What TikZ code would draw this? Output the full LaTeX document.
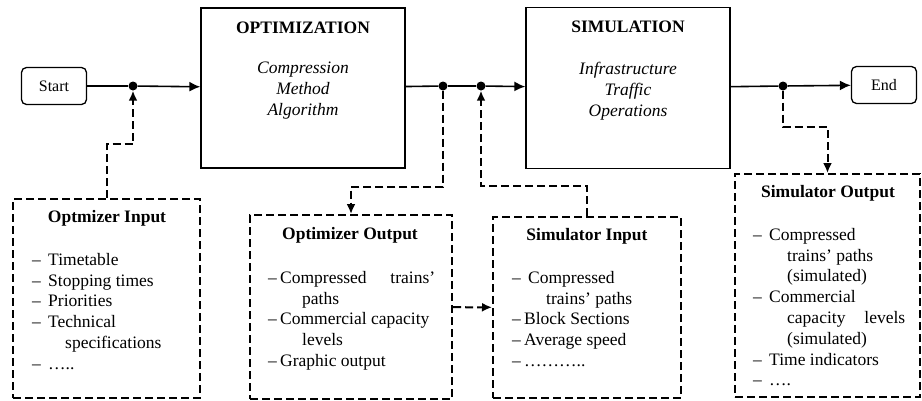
\documentclass[tikz,border=0pt]{standalone}
\usepackage{fontspec}
\setmainfont{Liberation Serif}
\usetikzlibrary{arrows.meta}

\begin{document}
\begin{tikzpicture}[x=1pt,y=-1pt]
        \tikzstyle{blk} = [draw, line width=1.3pt, inner sep=0pt];
        \tikzstyle{term} = [draw, line width=1.3pt, rounded corners=5pt, minimum width=65pt, minimum height=37pt, font=\fontsize{16}{19}\selectfont];
        \tikzstyle{io} = [draw, line width=2pt, dash pattern=on 8pt off 4pt, inner sep=0pt];
        \tikzstyle{dot} = [circle, fill, inner sep=0pt, minimum size=9pt];
        \tikzstyle{ttl} = [font=\fontsize{17.5}{21}\selectfont\bfseries];
        \tikzstyle{itx} = [align=center, font=\fontsize{17.5}{21}\selectfont\itshape];
        \tikzstyle{itm} = [anchor=north west, align=left, inner sep=0pt, font=\fontsize{17.5}{20.8}\selectfont];
        \tikzstyle{l} = [line width=1.6pt];
        \tikzstyle{e} = [line width=1.6pt, -{Latex[length=11pt,width=10pt]}];
        \tikzstyle{d} = [line width=2pt, dash pattern=on 8pt off 4pt, -{Latex[length=10pt,width=9pt]}];

        \useasboundingbox (0,0) rectangle (922,400);

        % main flow
        \node[term](st) at (54,86){Start};
        \node[blk, minimum width=204pt, minimum height=160pt](opt) at (303,88){};
        \node[blk, minimum width=204pt, minimum height=161pt](sim) at (628,88){};
        \node[term](en) at (884,85){End};
        \node[dot](j1) at (133,86){};
        \node[dot](j2) at (443,86){};
        \node[dot](j3) at (481,86){};
        \node[dot](j4) at (783,86){};

        \node[ttl](optt) at (303,28){OPTIMIZATION};
        \node[itx](optx) at (303,91){Compression\\Method\\Algorithm};
        \node[ttl](simt) at (628,27){SIMULATION};
        \node[itx](simx) at (628,91){Infrastructure\\Traffic\\Operations};

        \draw[l](st)--(j1);
        \draw[e](j1)--(opt);
        \draw[l](opt)--(j2);
        \draw[l](j2)--(j3);
        \draw[e](j3)--(sim);
        \draw[l](sim)--(j4);
        \draw[e](j4)--(en);

        % inputs and outputs
        \node[io, minimum width=187pt, minimum height=199pt](oin) at (106.5,298.5){};
        \node[io, minimum width=202pt, minimum height=184pt](oout) at (351,307){};
        \node[io, minimum width=188pt, minimum height=181pt](sin) at (587,307.5){};
        \node[io, minimum width=185pt, minimum height=223pt](sout) at (827.5,285.5){};

        \node[ttl](oint) at (107,218){Optmizer Input};
        \node[ttl](ooutt) at (350,235){Optimizer Output};
        \node[ttl](sint) at (587,236){Simulator Input};
        \node[ttl](soutt) at (828,193){Simulator Output};

        \node[itm](oinl) at (32,253){\makebox[16pt][l]{–}Timetable\\
          \makebox[16pt][l]{–}Stopping times\\
          \makebox[16pt][l]{–}Priorities\\
          \makebox[16pt][l]{–}Technical\\
          \hspace*{33pt}specifications\\
          \makebox[16pt][l]{–}…..};
        \node[itm](ooutl) at (268,271){\makebox[12pt][l]{–}\makebox[155pt][s]{Compressed trains'}\\
          \hspace*{34pt}paths\\
          \makebox[12pt][l]{–}Commercial capacity\\
          \hspace*{34pt}levels\\
          \makebox[12pt][l]{–}Graphic output};
        \node[itm](sinl) at (512,271){\makebox[16pt][l]{–}Compressed\\
          \hspace*{34pt}trains' paths\\
          \makebox[12pt][l]{–}Block Sections\\
          \makebox[12pt][l]{–}Average speed\\
          \makebox[12pt][l]{–}………..};
        \node[itm](soutl) at (753,228){\makebox[16pt][l]{–}Compressed\\
          \hspace*{34pt}trains' paths\\
          \hspace*{34pt}(simulated)\\
          \makebox[16pt][l]{–}Commercial\\
          \hspace*{34pt}\makebox[118pt][s]{capacity levels}\\
          \hspace*{34pt}(simulated)\\
          \makebox[16pt][l]{–}Time indicators\\
          \makebox[16pt][l]{–}….};

        \draw[d](oin.north) -- ++(0,-54) -| (j1);
        \draw[d](j2) -- ++(0,101) -| (oout);
        \draw[d](sin.north) -- ++(0,-30) -| (j3);
        \draw[d](j4) -- ++(0,41) -| (sout);
        \draw[d](oout) -- (sin);

    \end{tikzpicture}
\end{document}
